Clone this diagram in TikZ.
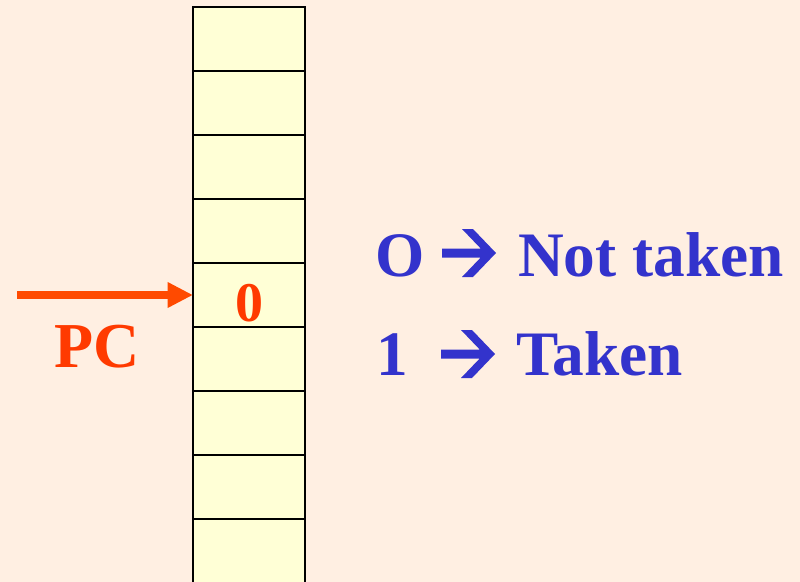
\documentclass[tikz,border=0pt]{standalone}
\usepackage{fontspec}
\setmainfont{Liberation Serif}
\usetikzlibrary{arrows.meta}
\definecolor{bgpeach}{HTML}{FFEFE2}
\definecolor{cellyellow}{HTML}{FFFFD6}
\definecolor{pcorange}{HTML}{FF4A00}
\definecolor{txtorange}{HTML}{FF3A00}
\definecolor{txtblue}{HTML}{3333CC}
\tikzset{
  cellbox/.style={draw=black, line width=2pt, fill=cellyellow},
  bluetxt/.style={text=txtblue, font=\fontsize{47.5}{52}\selectfont\bfseries, inner sep=0pt, anchor=base west},
  orangetxt/.style={text=txtorange, font=\fontsize{48}{52}\selectfont\bfseries, inner sep=0pt},
  pcarrow/.style={draw=pcorange, line width=6pt, -{Triangle[length=19pt,width=18pt]}},
  chevarrow/.pic={
    \fill[txtblue] (0,-4.5) -- (38.7,-4.5) -- (20,-24) -- (31,-24) -- (54,0)
      -- (31,24) -- (20,24) -- (38.7,4.5) -- (0,4.5) -- cycle;
  }
}
\begin{document}
\begin{tikzpicture}[x=0.75pt,y=-0.75pt]
\useasboundingbox (0,0) rectangle (800,582);
\fill[bgpeach] (0,0) rectangle (800,582);
\begin{scope}
\clip (0,0) rectangle (800,582);
\foreach \i in {0,...,8} {
  \draw[cellbox] (193,{7+64*\i}) rectangle (305,{71+64*\i});
}
\end{scope}
\coordinate (cellfour) at (193,295);
\coordinate (pcstart) at (17,295);
\draw[pcarrow] (pcstart) -- (cellfour);
\node[orangetxt, anchor=base] (zero) at (249,321) {\fontsize{42}{46}\selectfont 0};
\node[orangetxt, anchor=base] (pc) at (97,367) {PC};
\node[bluetxt] (o) at (375,276) {O};
\pic at (442,253) {chevarrow};
\node[bluetxt] (nt) at (518,276) {Not taken};
\node[bluetxt] (one) at (376,375) {1};
\pic at (441,354) {chevarrow};
\node[bluetxt] (tk) at (516,375) {Taken};
\end{tikzpicture}
\end{document}
